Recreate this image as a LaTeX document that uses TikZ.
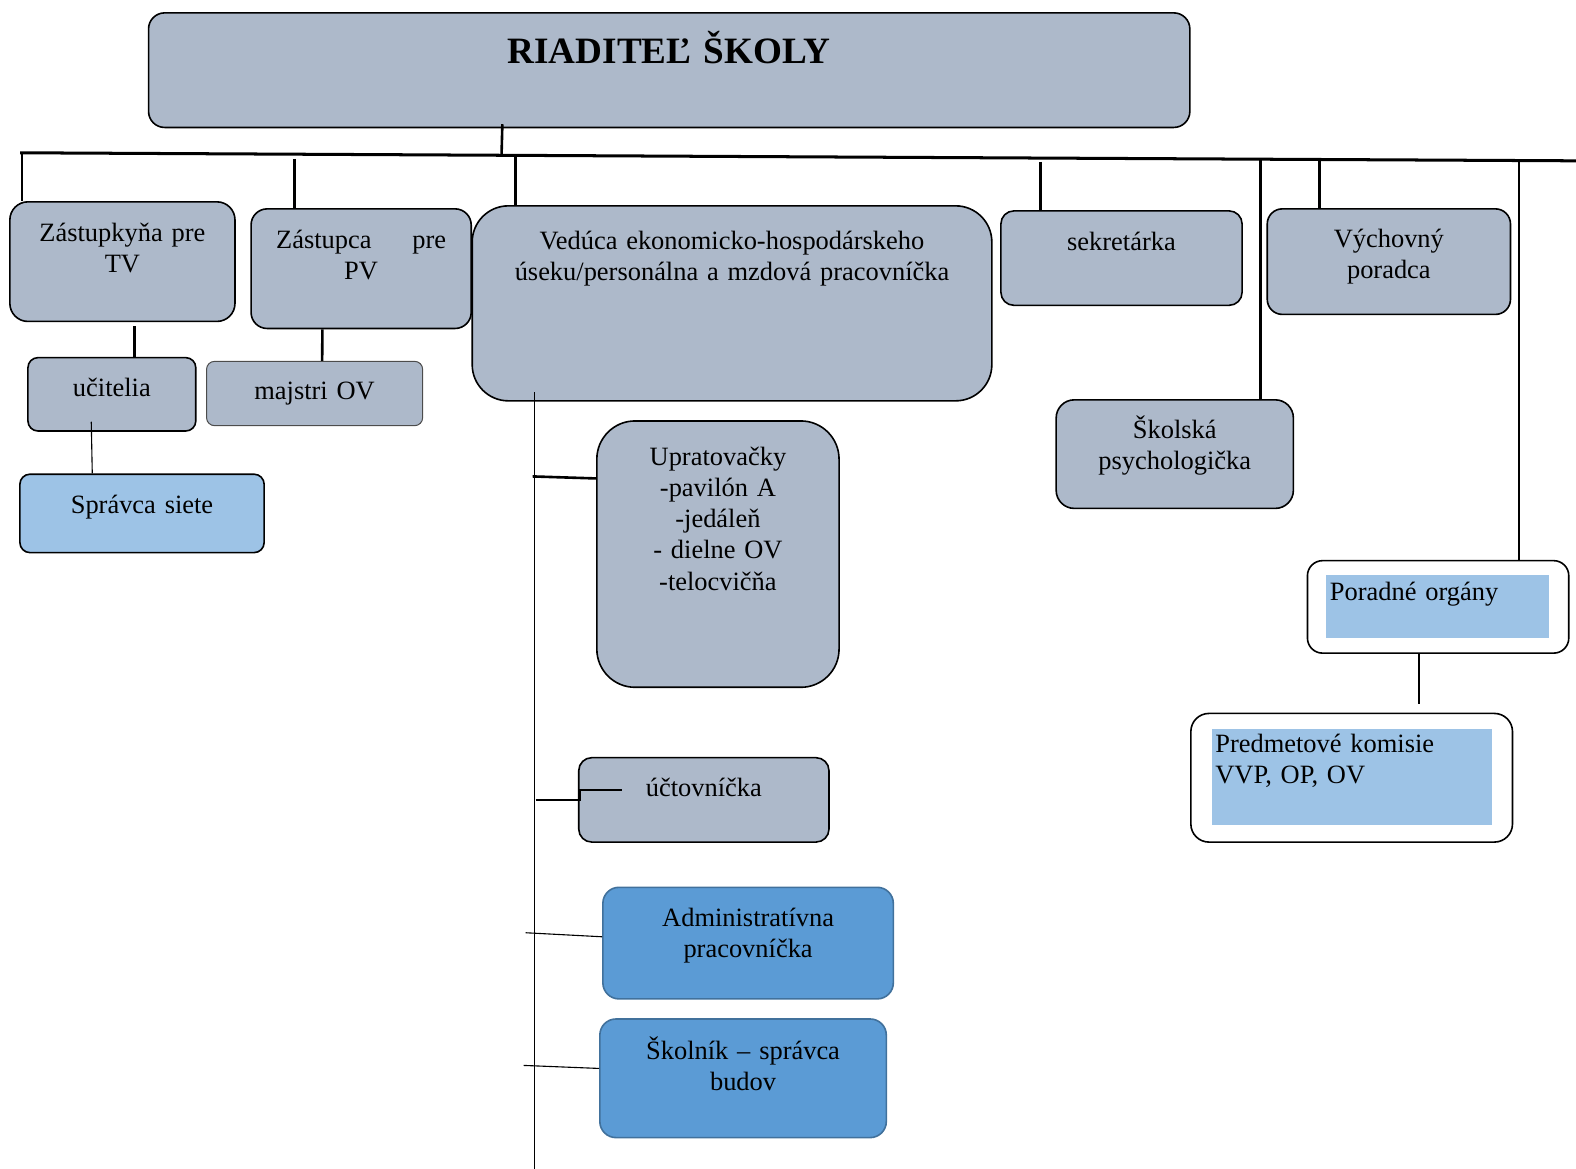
\documentclass[tikz,border=0pt]{standalone}
\usepackage{fontspec}
\setmainfont{Liberation Serif}
\definecolor{greyblue}{HTML}{ADB9CA}
\definecolor{lightblue}{HTML}{9DC3E6}
\definecolor{midblue}{HTML}{5B9BD5}
\definecolor{midedge}{HTML}{41719C}
\tikzset{
  box/.style={draw=black, line width=1.6pt, fill=greyblue, rounded corners=#1, inner sep=0pt, anchor=north west},
  box/.default=12pt,
  pane/.style={fill=lightblue, inner sep=0pt, anchor=north west},
  txt/.style={anchor=base, text width=520pt, align=center, inner sep=0pt, font=\fontsize{26.3}{31}\selectfont},
  ltxt/.style={anchor=base west, text width=300pt, align=left, inner sep=0pt, font=\fontsize{26.3}{31}\selectfont},
  bus/.style={line width=3pt},
  drop/.style={line width=2.6pt},
  fine/.style={line width=1.1pt}
}
\begin{document}
\begin{tikzpicture}[x=1pt,y=-1pt]
\useasboundingbox (0,0) rectangle (1568,1163);
% riaditel
\node[box=16pt, minimum width=1036pt, minimum height=114pt,
  label={[txt, font=\fontsize{37}{40}\selectfont\bfseries, yshift=-51pt]north:RIADITEĽ ŠKOLY}] (dir) at (147,12) {};
% prvy rad
\node[box=18pt, minimum width=224pt, minimum height=119pt,
  label={[txt, yshift=-40pt]north:{Zástupkyňa pre\\TV}}] (zTV) at (9,200) {};
\node[box=16pt, minimum width=219pt, minimum height=119pt,
  label={[txt, yshift=-40pt]north:{\makebox[169pt]{Zástupca\hfill pre}\\PV}}] (zPV) at (249,207) {};
\node[box=36pt, minimum width=517pt, minimum height=194pt,
  label={[txt, yshift=-44pt]north:{Vedúca ekonomicko-hospodárskeho\\úseku/personálna a mzdová pracovníčka}}] (ved) at (469,204) {};
\node[box=13pt, minimum width=240pt, minimum height=94pt,
  label={[txt, yshift=-40pt]north:sekretárka}] (sekr) at (995,209) {};
\node[box=15pt, minimum width=242pt, minimum height=105pt,
  label={[txt, yshift=-39pt]north:{Výchovný\\poradca}}] (vych) at (1260,207) {};
% pod zastupcami
\node[box=10pt, minimum width=167pt, minimum height=73pt,
  label={[txt, yshift=-39pt]north:učitelia}] (ucit) at (27,355) {};
\node[box=8pt, line width=1pt, draw=black!70, minimum width=215pt, minimum height=64pt,
  label={[txt, yshift=-38pt]north:majstri OV}] (majs) at (205,359) {};
\node[box=10pt, fill=lightblue, minimum width=243pt, minimum height=78pt,
  label={[txt, yshift=-40pt]north:Správca siete}] (sprav) at (19,471) {};
% ekonomicky usek
\node[box=38pt, minimum width=241pt, minimum height=265pt,
  label={[txt, yshift=-45pt]north:{Upratovačky\\-pavilón A\\-jedáleň\\- dielne OV\\-telocvičňa}}] (upr) at (593,418) {};
\node[box=13pt, minimum width=249pt, minimum height=84pt,
  label={[txt, yshift=-39pt]north:účtovníčka}] (ucto) at (575,753) {};
\node[box=16pt, fill=midblue, draw=midedge, minimum width=289pt, minimum height=111pt,
  label={[txt, yshift=-40pt]north:{Administratívna\\pracovníčka}}] (adm) at (599,882) {};
\node[box=16pt, fill=midblue, draw=midedge, minimum width=285pt, minimum height=118pt,
  label={[txt, yshift=-41pt]north:{Školník \textendash{} správca\\budov}}] (skol) at (596,1013) {};
% vpravo
\node[box=18pt, minimum width=236pt, minimum height=108pt,
  label={[txt, yshift=-39pt]north:{Školská\\psychologička}}] (psy) at (1050,397) {};
\node[box=15pt, fill=white, minimum width=260pt, minimum height=92pt] (por) at (1300,557) {};
\node[pane, minimum width=222pt, minimum height=63pt,
  label={[ltxt, xshift=4pt, yshift=-25pt]north west:Poradné orgány}] (porIn) at (1319,572) {};
\node[box=18pt, fill=white, minimum width=320pt, minimum height=128pt] (pred) at (1184,709) {};
\node[pane, minimum width=278pt, minimum height=96pt,
  label={[ltxt, xshift=3pt, yshift=-24pt]north west:{Predmetové komisie\\VVP, OP, OV}}] (predIn) at (1206,725) {};

% zbernica
\coordinate (busL) at (20,152);
\coordinate (busR) at (1568,160);
\draw[bus] (busL) -- (busR);
\coordinate (b0) at (499,154);
\draw[drop] ([xshift=-166pt,yshift=4pt]dir.south) -- (b0);
\coordinate (d1) at (22,152);
\coordinate (d2) at (293,158);
\coordinate (d3) at (513,155);
\coordinate (d4) at (1035,161);
\coordinate (d5) at (1254,158);
\coordinate (d6) at (1313,158);
\coordinate (d7) at (1511,160);
\draw[drop] (d1) -- (d1 |- zTV.north);
\draw[drop] (d2) -- (d2 |- zPV.north);
\draw[drop] (d3) -- (d3 |- ved.north);
\draw[drop] (d4) -- (d4 |- sekr.north);
\draw[drop] (d5) -- (d5 |- psy.north);
\draw[drop] (d6) -- (d6 |- vych.north);
\draw[line width=1.6pt] (d7) -- (d7 |- por.north);

\draw[drop] ([xshift=12pt,yshift=-4pt]zTV.south) -- ([xshift=22.5pt]ucit.north);
\draw[drop] ([xshift=-38.5pt]zPV.south) -- ([xshift=7.5pt]majs.north);
\draw[fine] ([xshift=-20.5pt,yshift=10pt]ucit.south) -- ([xshift=-49.5pt]sprav.north);
\draw[line width=1.6pt] ([xshift=-19pt]por.south) -- ([xshift=67pt,yshift=9pt]pred.north);

% os ekonomickeho useku
\coordinate (sp) at (532,390);
\coordinate (spEnd) at (532,1163);
\draw[fine] (sp) -- (spEnd);
\coordinate (s1) at (530,474);
\coordinate (s2) at (533,796);
\coordinate (s3) at (523,928);
\coordinate (s4) at (521,1060);
\draw[drop] (s1) -- ([yshift=-58pt]upr.north west);
\draw[drop] (s2) -| ([xshift=2pt,yshift=-33pt]ucto.north west) -- ++(42,0);
\draw[fine] (s3) -- ([yshift=-50pt]adm.north west);
\draw[fine] (s4) -- ([yshift=-50pt]skol.north west);
\end{tikzpicture}
\end{document}
